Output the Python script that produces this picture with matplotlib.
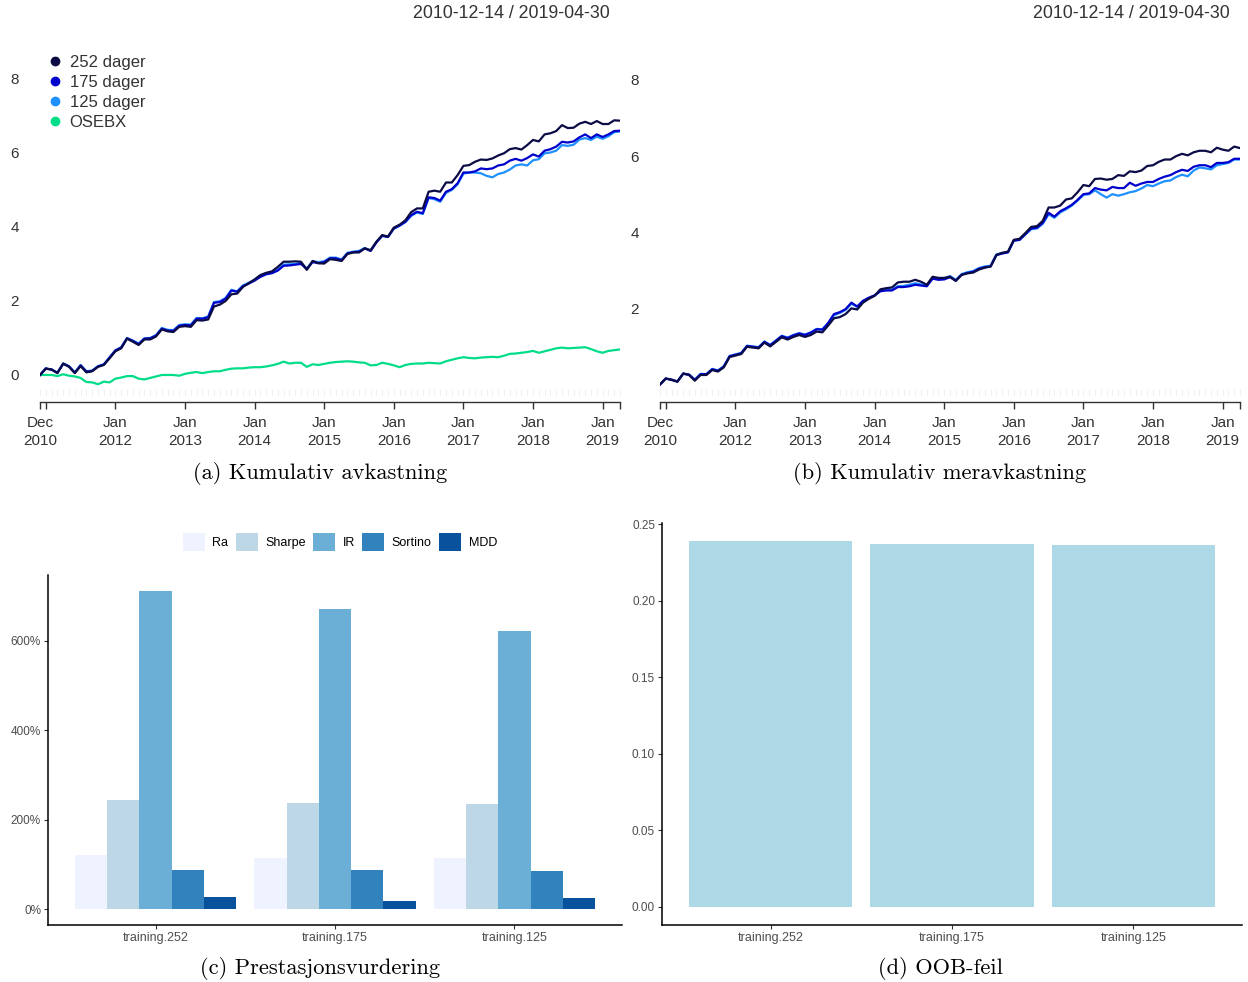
import numpy as np
import pandas as pd
import matplotlib
matplotlib.use("Agg")
import matplotlib.pyplot as plt
from matplotlib.lines import Line2D
from matplotlib.patches import Patch
from matplotlib.ticker import PercentFormatter, FormatStrFormatter

plt.rcParams['font.family'] = ['Liberation Sans', 'DejaVu Sans']

# monthly observations, 2010-12-14 .. 2019-04-30
dates = pd.DatetimeIndex(['2010-12-14']).append(
    pd.date_range('2011-01-31', '2019-04-30', freq='ME'))

# (a) cumulative return
cum_252 = [0.00, 0.17, 0.15, 0.05, 0.31, 0.22, 0.05, 0.24, 0.07, 0.10,
           0.22, 0.27, 0.45, 0.64, 0.72, 0.98, 0.90, 0.81, 0.96, 0.96,
           1.04, 1.23, 1.18, 1.16, 1.30, 1.32, 1.30, 1.48, 1.47, 1.50,
           1.85, 1.90, 2.00, 2.18, 2.20, 2.38, 2.48, 2.58, 2.70, 2.76,
           2.80, 2.92, 3.06, 3.06, 3.07, 3.06, 2.84, 3.08, 3.02, 3.01,
           3.13, 3.11, 3.08, 3.27, 3.31, 3.31, 3.42, 3.37, 3.60, 3.78,
           3.74, 3.98, 4.06, 4.18, 4.40, 4.50, 4.50, 4.95, 4.98, 4.95,
           5.20, 5.20, 5.40, 5.65, 5.67, 5.76, 5.82, 5.81, 5.85, 5.93,
           5.99, 6.10, 6.13, 6.09, 6.21, 6.35, 6.31, 6.50, 6.53, 6.59,
           6.75, 6.67, 6.68, 6.79, 6.84, 6.78, 6.86, 6.78, 6.78, 6.88,
           6.87]
cum_175 = [0.00, 0.18, 0.14, 0.06, 0.30, 0.23, 0.06, 0.26, 0.09, 0.11,
           0.23, 0.28, 0.47, 0.66, 0.74, 0.99, 0.92, 0.83, 0.98, 0.99,
           1.06, 1.25, 1.20, 1.19, 1.33, 1.35, 1.34, 1.52, 1.52, 1.56,
           1.95, 1.97, 2.06, 2.28, 2.25, 2.40, 2.47, 2.55, 2.65, 2.72,
           2.75, 2.82, 2.95, 2.96, 2.98, 3.00, 2.86, 3.05, 3.02, 3.05,
           3.15, 3.15, 3.10, 3.28, 3.32, 3.33, 3.42, 3.35, 3.58, 3.76,
           3.73, 3.96, 4.04, 4.14, 4.32, 4.41, 4.37, 4.80, 4.78, 4.71,
           4.95, 5.02, 5.18, 5.47, 5.47, 5.50, 5.58, 5.56, 5.58, 5.66,
           5.69, 5.79, 5.84, 5.79, 5.86, 5.96, 5.90, 6.06, 6.10, 6.17,
           6.30, 6.28, 6.31, 6.42, 6.50, 6.40, 6.50, 6.43, 6.50, 6.59,
           6.60]
cum_125 = [0.00, 0.17, 0.15, 0.06, 0.31, 0.24, 0.07, 0.27, 0.10, 0.12,
           0.24, 0.29, 0.48, 0.67, 0.75, 1.00, 0.93, 0.85, 0.99, 1.00,
           1.08, 1.27, 1.22, 1.21, 1.35, 1.37, 1.36, 1.54, 1.53, 1.58,
           1.97, 1.99, 2.08, 2.30, 2.26, 2.42, 2.49, 2.57, 2.68, 2.74,
           2.77, 2.85, 2.98, 2.99, 3.00, 3.03, 2.88, 3.07, 3.05, 3.07,
           3.17, 3.17, 3.12, 3.30, 3.33, 3.35, 3.43, 3.36, 3.59, 3.76,
           3.73, 3.95, 4.03, 4.13, 4.30, 4.39, 4.35, 4.78, 4.75, 4.68,
           4.92, 5.00, 5.15, 5.44, 5.47, 5.47, 5.45, 5.38, 5.34, 5.43,
           5.47, 5.55, 5.66, 5.69, 5.66, 5.80, 5.83, 5.99, 6.01, 6.06,
           6.21, 6.19, 6.22, 6.36, 6.40, 6.35, 6.44, 6.38, 6.45, 6.56,
           6.58]
cum_osebx = [0.00, 0.00, 0.00, -0.03, 0.02, -0.02, -0.04, -0.08, -0.19, -0.20,
             -0.25, -0.18, -0.20, -0.10, -0.07, -0.03, -0.03, -0.10, -0.12, -0.08,
             -0.04, 0.00, 0.00, 0.00, -0.02, 0.03, 0.06, 0.08, 0.05, 0.08,
             0.10, 0.10, 0.14, 0.17, 0.18, 0.18, 0.20, 0.21, 0.21, 0.23,
             0.26, 0.30, 0.36, 0.31, 0.33, 0.33, 0.22, 0.29, 0.27, 0.30,
             0.33, 0.35, 0.36, 0.37, 0.36, 0.34, 0.33, 0.26, 0.27, 0.33,
             0.30, 0.26, 0.21, 0.27, 0.30, 0.31, 0.31, 0.33, 0.32, 0.31,
             0.37, 0.41, 0.45, 0.48, 0.46, 0.45, 0.47, 0.48, 0.49, 0.48,
             0.52, 0.57, 0.58, 0.60, 0.62, 0.65, 0.60, 0.64, 0.68, 0.72,
             0.74, 0.72, 0.73, 0.74, 0.75, 0.70, 0.64, 0.60, 0.65, 0.67,
             0.69]

# (b) cumulative excess return
exc_252 = [0.00, 0.16, 0.12, 0.07, 0.29, 0.25, 0.10, 0.25, 0.25, 0.38,
           0.34, 0.45, 0.72, 0.76, 0.80, 0.99, 0.97, 0.95, 1.10, 1.00,
           1.12, 1.24, 1.18, 1.25, 1.30, 1.25, 1.30, 1.39, 1.37, 1.55,
           1.74, 1.77, 1.85, 2.00, 1.97, 2.15, 2.25, 2.33, 2.50, 2.53,
           2.55, 2.68, 2.70, 2.70, 2.75, 2.70, 2.62, 2.83, 2.80, 2.80,
           2.83, 2.72, 2.88, 2.92, 2.94, 3.02, 3.07, 3.10, 3.40, 3.46,
           3.49, 3.80, 3.83, 3.98, 4.14, 4.16, 4.30, 4.65, 4.65, 4.70,
           4.86, 4.89, 5.05, 5.24, 5.21, 5.40, 5.41, 5.38, 5.40, 5.50,
           5.48, 5.60, 5.58, 5.62, 5.74, 5.76, 5.85, 5.91, 5.91, 6.00,
           6.06, 6.02, 6.10, 6.14, 6.14, 6.10, 6.22, 6.17, 6.14, 6.25,
           6.21]
exc_175 = [0.00, 0.15, 0.13, 0.08, 0.28, 0.26, 0.12, 0.27, 0.27, 0.40,
           0.36, 0.47, 0.74, 0.78, 0.82, 1.01, 0.99, 0.97, 1.12, 1.03,
           1.15, 1.27, 1.22, 1.29, 1.34, 1.30, 1.36, 1.45, 1.44, 1.62,
           1.85, 1.90, 1.98, 2.15, 2.05, 2.20, 2.28, 2.34, 2.45, 2.47,
           2.47, 2.56, 2.56, 2.58, 2.62, 2.60, 2.58, 2.78, 2.75, 2.76,
           2.82, 2.73, 2.88, 2.93, 2.96, 3.04, 3.08, 3.10, 3.40, 3.44,
           3.47, 3.78, 3.80, 3.95, 4.10, 4.12, 4.25, 4.51, 4.41, 4.55,
           4.63, 4.72, 4.85, 5.00, 5.02, 5.16, 5.12, 5.10, 5.19, 5.16,
           5.16, 5.30, 5.22, 5.28, 5.32, 5.32, 5.40, 5.46, 5.50, 5.58,
           5.64, 5.61, 5.72, 5.76, 5.76, 5.71, 5.82, 5.82, 5.84, 5.93,
           5.93]
exc_125 = [0.00, 0.16, 0.12, 0.08, 0.29, 0.26, 0.13, 0.28, 0.27, 0.41,
           0.37, 0.48, 0.75, 0.79, 0.83, 1.02, 1.00, 0.98, 1.13, 1.04,
           1.16, 1.28, 1.23, 1.30, 1.35, 1.31, 1.37, 1.46, 1.45, 1.60,
           1.82, 1.88, 1.96, 2.12, 2.04, 2.18, 2.27, 2.34, 2.46, 2.49,
           2.49, 2.58, 2.59, 2.62, 2.66, 2.63, 2.60, 2.80, 2.77, 2.79,
           2.85, 2.75, 2.90, 2.95, 2.98, 3.06, 3.10, 3.12, 3.42, 3.45,
           3.48, 3.78, 3.80, 3.94, 4.08, 4.10, 4.22, 4.47, 4.38, 4.52,
           4.60, 4.70, 4.83, 4.98, 5.00, 5.10, 5.00, 4.91, 5.00, 4.96,
           5.00, 5.05, 5.08, 5.15, 5.24, 5.21, 5.28, 5.34, 5.36, 5.45,
           5.51, 5.47, 5.62, 5.70, 5.68, 5.65, 5.76, 5.79, 5.82, 5.91,
           5.91]

# (c) performance measures
groups = ['training.252', 'training.175', 'training.125']
measures = ['Ra', 'Sharpe', 'IR', 'Sortino', 'MDD']
ra = [1.21, 1.14, 1.14]
sharpe = [2.45, 2.38, 2.36]
ir = [7.12, 6.72, 6.22]
sortino = [0.88, 0.88, 0.85]
mdd = [0.27, 0.18, 0.25]

# (d) OOB error
oob = [0.2388, 0.2373, 0.2364]

W, H = 1248, 982
fig = plt.figure(figsize=(W / 100, H / 100), dpi=100)


def px_axes(x0, y0, x1, y1):
    return fig.add_axes([x0 / W, 1 - y1 / H, (x1 - x0) / W, (y1 - y0) / H])


def ts_panel(ax, series, ylim, yticks, header_x):
    x = np.arange(len(dates))
    for s, c in series:
        ax.plot(x, s, color=c, lw=1.6, solid_joinstyle='round')
    ax.set_xlim(0, len(dates) - 1)
    ax.set_ylim(*ylim)
    for sp in ['top', 'right', 'left']:
        ax.spines[sp].set_visible(False)
    ax.spines['bottom'].set_color('#333333')
    ax.spines['bottom'].set_linewidth(1.0)
    # faint per-observation marks above axis
    ax.plot(x, np.full(len(x), ylim[0] + 0.27), ls='', marker='|', ms=5,
            color='#efefef', mew=0.8, clip_on=False, zorder=0)
    ticks = [0]
    labels = [dates[0].strftime('%b\n%Y')]
    for yr in range(2012, 2020):
        i = int(np.argmax((dates.year == yr) & (dates.month == 1)))
        ticks.append(i)
        labels.append('Jan\n%d' % yr)
    ax.set_xticks(ticks)
    ax.set_xticklabels(labels, fontsize=11, color='#333333', linespacing=1.35)
    ax.set_xticks([1, len(dates) - 1], minor=True)
    ax.tick_params(axis='x', which='both', length=5, width=1, color='#333333', pad=5)
    ax.set_yticks(yticks)
    ax.set_yticklabels([str(t) for t in yticks], fontsize=11, color='#333333')
    ax.tick_params(axis='y', length=0, pad=15)
    fig.text(header_x / W, 1 - 14 / H,
             '%s / %s' % (dates[0].strftime('%Y-%m-%d'), dates[-1].strftime('%Y-%m-%d')),
             ha='right', va='center', fontsize=12.8, color='#333333')


c252, c175, c125, cose = '#0b0b45', '#0000cd', '#1e90ff', '#00dd88'

ax_a = px_axes(40, 40, 620, 402)
ts_panel(ax_a, [(cum_osebx, cose), (cum_125, c125), (cum_175, c175), (cum_252, c252)],
         (-0.73, 9.05), [0, 2, 4, 6, 8], 610)
handles = [Line2D([], [], ls='', marker='o', ms=6, color=c, label=l)
           for c, l in [(c252, '252 dager'), (c175, '175 dager'),
                        (c125, '125 dager'), (cose, 'OSEBX')]]
ax_a.legend(handles=handles, loc='upper left', bbox_to_anchor=(48 / W, 1 - 55 / H),
            bbox_transform=fig.transFigure, frameon=False, fontsize=12,
            handlelength=0.8, handletextpad=0.5, labelspacing=0.3,
            borderaxespad=0, borderpad=0, labelcolor='#333333')

ax_b = px_axes(660, 40, 1240, 402)
ts_panel(ax_b, [(exc_125, c125), (exc_175, c175), (exc_252, c252)],
         (-0.46, 9.05), [2, 4, 6, 8], 1230)

serif = 'cmr10'
for xc, yc, txt in [(320, 473, '(a) Kumulativ avkastning'),
                    (940, 473, '(b) Kumulativ meravkastning'),
                    (320, 968, '(c) Prestasjonsvurdering'),
                    (940, 968, '(d) OOB-feil')]:
    fig.text(xc / W, 1 - yc / H, txt, family=serif, fontsize=16.2,
             ha='center', va='center')


def gg_axes(ax):
    for sp in ['top', 'right']:
        ax.spines[sp].set_visible(False)
    for sp in ['left', 'bottom']:
        ax.spines[sp].set_color('black')
        ax.spines[sp].set_linewidth(1.1)
    ax.tick_params(length=3, width=0.8, color='#333333', labelsize=8.5,
                   labelcolor='#4d4d4d', pad=2)
    ax.tick_params(axis='x', labelsize=9)


# (c)
ax_c = px_axes(48, 575, 622, 925)
blues = ['#eff3ff', '#bdd7e7', '#6baed6', '#3182bd', '#08519c']
pos = np.arange(1, len(groups) + 1)
bw = 0.9 / len(measures)
for k, (vals, col) in enumerate(zip([ra, sharpe, ir, sortino, mdd], blues)):
    ax_c.bar(pos + (k - 2) * bw, np.array(vals) * 100, width=bw, color=col,
             label=measures[k])
ax_c.set_xlim(0.4, 3.6)
ax_c.set_ylim(-35.6, 747.6)
ax_c.set_yticks([0, 200, 400, 600])
ax_c.yaxis.set_major_formatter(PercentFormatter(decimals=0))
ax_c.set_xticks(pos)
ax_c.set_xticklabels(groups)
gg_axes(ax_c)
fig.legend(handles=[Patch(facecolor=c, label=l) for c, l in zip(blues, measures)],
           loc='center', bbox_to_anchor=(340 / W, 1 - 542 / H), ncol=5, frameon=False,
           fontsize=9, handlelength=1.75, handleheight=1.75, handletextpad=0.6,
           columnspacing=0.6)

# (d)
ax_d = px_axes(662, 523, 1242, 925)
ax_d.bar(pos, oob, width=0.9, color='#add8e6')
ax_d.set_xlim(0.4, 3.6)
ax_d.set_ylim(-0.0119, 0.2507)
ax_d.set_yticks([0, 0.05, 0.10, 0.15, 0.20, 0.25])
ax_d.yaxis.set_major_formatter(FormatStrFormatter('%.2f'))
ax_d.set_xticks(pos)
ax_d.set_xticklabels(groups)
gg_axes(ax_d)

fig.savefig('out.png', dpi=100)
